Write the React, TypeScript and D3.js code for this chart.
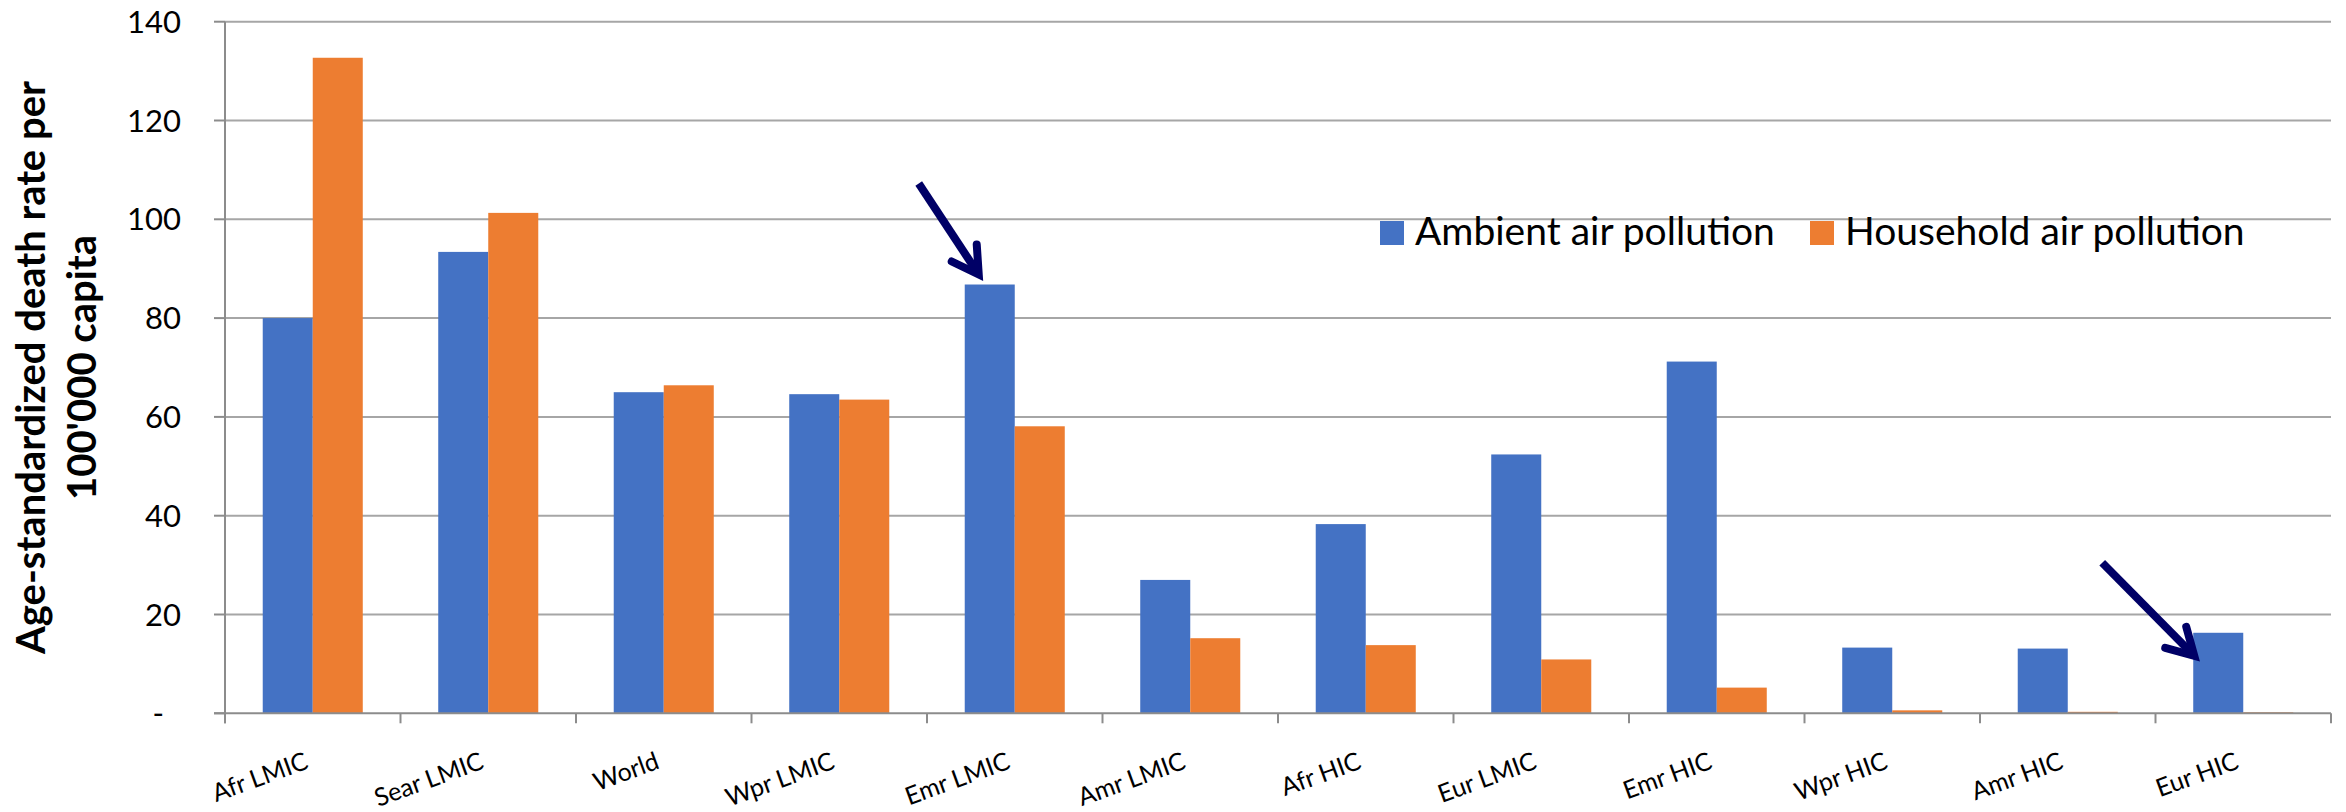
import React from "react";
import * as d3 from "d3";

const categories = [
  "Afr LMIC",
  "Sear LMIC",
  "World",
  "Wpr LMIC",
  "Emr LMIC",
  "Amr LMIC",
  "Afr HIC",
  "Eur LMIC",
  "Emr HIC",
  "Wpr HIC",
  "Amr HIC",
  "Eur HIC",
];
const seriesNames = ["Ambient air pollution", "Household air pollution"];
const ambient = [80.0, 93.4, 65.0, 64.6, 86.8, 27.0, 38.3, 52.4, 71.2, 13.3, 13.1, 16.3];
const household = [132.7, 101.3, 66.4, 63.5, 58.1, 15.2, 13.8, 10.9, 5.2, 0.6, 0.3, 0.2];
const yTicks = [0, 20, 40, 60, 80, 100, 120, 140];
const yTickLabels = ["-", "20", "40", "60", "80", "100", "120", "140"];
const yTitle = ["Age-standardized death rate per", "100'000 capita"];
// arrows point at these bars
const arrowTargets = ["Emr LMIC", "Eur HIC"];

const W = 2346;
const H = 812;
const FONT = "Lato, 'Open Sans', sans-serif";
const colors = ["#4472C4", "#ED7D31"];

const App: React.FC = () => {
  const left = 225;
  const right = 2331;
  const top = 21.7;
  const bottom = 713.3;

  const x = d3
    .scaleBand<string>()
    .domain(categories)
    .range([left, right])
    .paddingInner(0.43)
    .paddingOuter(0.215);
  const xs = d3.scaleBand<string>().domain(seriesNames).range([0, x.bandwidth()]);
  const y = d3.scaleLinear().domain([0, 140]).range([bottom, top]);
  const color = d3.scaleOrdinal<string>().domain(seriesNames).range(colors);

  const series = [ambient, household];
  const step = x.step();
  const boundaries = d3.range(categories.length + 1).map((i) => left + i * step);

  // arrow geometry relative to the target bar's top-left corner
  const arrows = [
    { cat: arrowTargets[0], tip: [14, -10], tail: [-60, -91], w1: [-27, -13], w2: [-2, -30] },
    { cat: arrowTargets[1], tip: [1, 23], tail: [-92, -93], w1: [-29, -8], w2: [-8, -29] },
  ];

  return (
    <>
      <style>{`body{margin:0}`}</style>
      <svg width={W} height={H} style={{ display: "block", background: "#fff" }}>
        {/* gridlines */}
        {yTicks.slice(1).map((t) => (
          <line key={t} x1={left} x2={right} y1={y(t)} y2={y(t)} stroke="#a6a6a6" strokeWidth={2} />
        ))}
        {/* y tick marks */}
        {yTicks.map((t) => (
          <line key={"yt" + t} x1={left - 11} x2={left} y1={y(t)} y2={y(t)} stroke="#8c8c8c" strokeWidth={2} />
        ))}
        {/* bars */}
        {categories.map((c, i) => (
          <g key={c}>
            {seriesNames.map((s, j) => (
              <rect
                key={s}
                x={(x(c) ?? 0) + (xs(s) ?? 0)}
                y={y(series[j][i])}
                width={xs.bandwidth()}
                height={y(0) - y(series[j][i])}
                fill={color(s)}
              />
            ))}
          </g>
        ))}
        {/* axes */}
        <line x1={left} x2={left} y1={top} y2={bottom + 10} stroke="#8c8c8c" strokeWidth={2} />
        <line x1={left - 11} x2={right} y1={bottom} y2={bottom} stroke="#8c8c8c" strokeWidth={2} />
        {boundaries.map((bx, i) => (
          <line key={"xt" + i} x1={bx} x2={bx} y1={bottom} y2={bottom + 10} stroke="#8c8c8c" strokeWidth={2} />
        ))}
        {/* y tick labels */}
        {yTicks.map((t, i) => (
          <text
            key={"yl" + t}
            x={t === 0 ? 164 : 181}
            y={y(t) + 11}
            textAnchor="end"
            fontFamily={FONT}
            fontSize={31}
            fill="#000"
          >
            {yTickLabels[i]}
          </text>
        ))}
        {/* x labels */}
        {categories.map((c) => {
          const cx = (x(c) ?? 0) + x.bandwidth() / 2 - 3;
          return (
            <text
              key={"xl" + c}
              transform={`translate(${cx},768) rotate(-20)`}
              textAnchor="end"
              fontFamily={FONT}
              fontSize={25}
              fill="#000"
            >
              {c}
            </text>
          );
        })}
        {/* y title */}
        {yTitle.map((line, i) => (
          <text
            key={"yt" + i}
            transform={`translate(${45 + i * 51},${(top + bottom) / 2}) rotate(-90)`}
            textAnchor="middle"
            fontFamily={FONT}
            fontWeight="bold"
            fontSize={40}
            fill="#000"
          >
            {line}
          </text>
        ))}
        {/* legend */}
        <rect x={1380} y={221} width={24} height={24} fill={colors[0]} />
        <text x={1415} y={245} fontFamily={FONT} fontSize={39} fill="#000">
          {seriesNames[0]}
        </text>
        <rect x={1810} y={221} width={24} height={24} fill={colors[1]} />
        <text x={1845} y={245} fontFamily={FONT} fontSize={39} fill="#000">
          {seriesNames[1]}
        </text>
        {/* arrows */}
        {arrows.map((a) => {
          const i = categories.indexOf(a.cat);
          const bx = (x(a.cat) ?? 0) + (xs(seriesNames[0]) ?? 0);
          const by = y(ambient[i]);
          const tx = bx + a.tip[0];
          const ty = by + a.tip[1];
          return (
            <g key={"ar" + a.cat} stroke="#000066" strokeWidth={8} fill="none">
              <line x1={tx + a.tail[0]} y1={ty + a.tail[1]} x2={tx} y2={ty} />
              <path
                d={`M${tx + a.w1[0]},${ty + a.w1[1]}L${tx},${ty}L${tx + a.w2[0]},${ty + a.w2[1]}`}
                strokeLinecap="round"
                strokeLinejoin="miter"
              />
            </g>
          );
        })}
      </svg>
    </>
  );
};

export default App;
